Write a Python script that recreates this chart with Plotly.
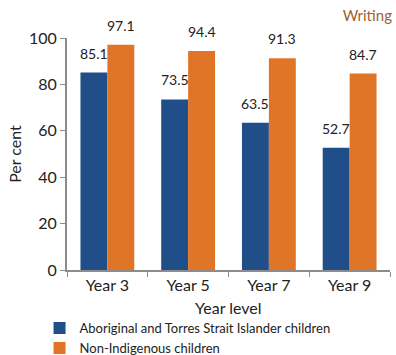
import plotly.graph_objects as go

categories = ["Year 3", "Year 5", "Year 7", "Year 9"]
indigenous = [85.1, 73.5, 63.5, 52.7]
non_indigenous = [97.1, 94.4, 91.3, 84.7]
series_names = ["Aboriginal and Torres Strait Islander children", "Non-Indigenous children"]
y_ticks = [0, 20, 40, 60, 80, 100]

BLUE = "#1F4E89"
ORANGE = "#E07427"
FONT = "Lato, 'Open Sans', sans-serif"

fig = go.Figure()
fig.add_trace(go.Bar(x=categories, y=indigenous, name=series_names[0],
                     marker=dict(color=BLUE, line=dict(width=0)), offsetgroup=0))
fig.add_trace(go.Bar(x=categories, y=non_indigenous, name=series_names[1],
                     marker=dict(color=ORANGE, line=dict(width=0)), offsetgroup=1))

annotations = []
for i, c in enumerate(categories):
    for vals, off in ((indigenous, -0.1667), (non_indigenous, 0.1667)):
        annotations.append(dict(x=i + off, y=vals[i], xref="x", yref="y",
                                text=f"{vals[i]:.1f}", showarrow=False,
                                yanchor="bottom", yshift=9,
                                font=dict(family=FONT, size=14, color="#222222")))
annotations.append(dict(x=0.5, y=-0.1595, xref="paper", yref="paper",
                        xanchor="center", yanchor="middle", text="Year level",
                        showarrow=False, font=dict(family=FONT, size=16, color="#222222")))

fig.update_layout(
    width=396, height=355,
    margin=dict(l=67, r=6, t=38, b=85, autoexpand=False),
    paper_bgcolor="white", plot_bgcolor="white",
    barmode="group", bargap=1/3, bargroupgap=0,
    font=dict(family=FONT, size=16, color="#222222"),
    title=dict(text="Writing", x=0.99, xref="container", xanchor="right",
               y=0.955, yref="container", yanchor="middle",
               font=dict(family=FONT, size=15, color="#A0612F")),
    showlegend=True,
    legend=dict(x=-0.085, xanchor="left", y=0.118, yref="container", yanchor="top",
                font=dict(family=FONT, size=13, color="#222222"),
                tracegroupgap=0, bgcolor="rgba(0,0,0,0)"),
    annotations=annotations,
)
fig.update_xaxes(
    showline=True, linecolor="#8C8C8C", linewidth=2,
    ticks="outside", ticklen=5, tickcolor="#8C8C8C", tickwidth=1,
    tickson="boundaries", showgrid=False, automargin=False,
)
fig.update_yaxes(
    range=[0, 100], tickvals=y_ticks, showline=True, linecolor="#8C8C8C", linewidth=2,
    ticks="outside", ticklen=5, tickcolor="#8C8C8C", tickwidth=1,
    showgrid=False, zeroline=False, automargin=False,
    title=dict(text="Per cent", font=dict(family=FONT, size=16), standoff=3),
)

fig.write_html("out.html", config={"displayModeBar": False},
               post_script="document.body.style.margin='0';document.body.style.padding='0';")
